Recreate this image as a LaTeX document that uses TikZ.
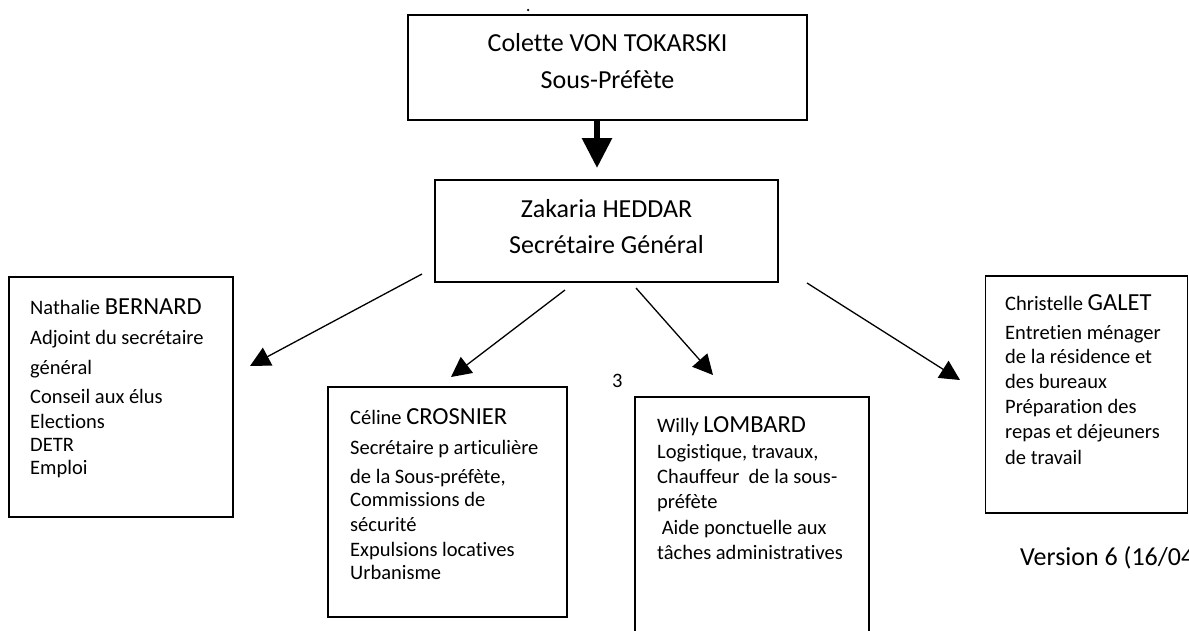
\documentclass[tikz,border=0pt]{standalone}
\usepackage{fontspec}
\setmainfont{Carlito}[Ligatures=NoCommon]
\usetikzlibrary{arrows.meta}
\newcommand\orgtitle{\fontsize{26}{30}\selectfont}
\newcommand\orgsmall{\fontsize{20.5}{24}\selectfont}
\newcommand\orgbig{\fontsize{24.5}{28}\selectfont}
\begin{document}
\begin{tikzpicture}[x=1pt,y=-1pt,
  orgbox/.style={draw=black,line width=1.3pt,inner sep=0pt,anchor=center},
  txt/.style={inner sep=0pt,anchor=base west,font=\orgsmall},
  ttl/.style={inner sep=0pt,anchor=base,font=\orgtitle},
  arr/.style={line width=1.3pt,-{Triangle[length=20pt,width=20pt]}},
  bigarr/.style={line width=6pt,-{Triangle[length=30pt,width=29pt]}}]
\useasboundingbox (0,0) rectangle (1189,630);
\clip (0,0) rectangle (1189,630);

% boxes
\node[orgbox,minimum width=399pt,minimum height=105pt] (top) at (607.5,67.5) {};
\node[orgbox,minimum width=343pt,minimum height=102pt] (sg) at (606.5,231) {};
\node[orgbox,minimum width=224pt,minimum height=240pt] (bern) at (121,397) {};
\node[orgbox,minimum width=239pt,minimum height=230pt] (cros) at (447.5,502) {};
\node[orgbox,minimum width=234pt,minimum height=245pt] (lomb) at (752,519.5) {};
\node[orgbox,minimum width=202pt,minimum height=237pt] (gal) at (1086.5,394.5) {};

% small dot
\node[circle,fill=black,inner sep=0pt,minimum size=2.5pt] (dot) at (528,10) {};

% top texts
\node[ttl] (t1) at (607.5,51) {Colette VON TOKARSKI};
\node[ttl] (t2) at (607.5,88) {Sous-Préfète};
\node[ttl] (s1) at (606.5,217) {Zakaria HEDDAR};
\node[ttl] (s2) at (606.5,253) {Secrétaire Général};

% Bernard
\node[txt] (b1) at (30,314) {Nathalie {\orgbig BERNARD}};
\node[txt] (b2) at (30,344) {Adjoint du secrétaire};
\node[txt] (b3) at (30,374) {général};
\node[txt] (b4) at (30,403) {Conseil aux élus};
\node[txt] (b5) at (30,428) {Elections};
\node[txt] (b6) at (30,451) {DETR};
\node[txt] (b7) at (30,474) {Emploi};

% Crosnier
\node[txt] (c1) at (350,424) {Céline {\orgbig CROSNIER}};
\node[txt] (c2) at (350,454) {Secrétaire p articulière};
\node[txt] (c3) at (350,483) {de la Sous-préfète,};
\node[txt] (c4) at (350,506) {Commissions de};
\node[txt] (c5) at (350,531) {sécurité};
\node[txt] (c6) at (350,556) {Expulsions locatives};
\node[txt] (c7) at (350,579) {Urbanisme};

% Lombard
\node[txt] (l1) at (657,432) {Willy {\orgbig LOMBARD}};
\node[txt] (l2) at (657,458) {Logistique, travaux,};
\node[txt] (l3) at (657,483) {Chauffeur\ \ de la sous-};
\node[txt] (l4) at (657,508) {préfète};
\node[txt] (l5) at (657,534) {\ Aide ponctuelle aux};
\node[txt] (l6) at (657,559) {tâches administratives};

% Galet
\node[txt] (g1) at (1005,310) {Christelle {\orgbig GALET}};
\node[txt] (g2) at (1005,339) {Entretien ménager};
\node[txt] (g3) at (1005,363) {de la résidence et};
\node[txt] (g4) at (1005,388) {des bureaux};
\node[txt] (g5) at (1005,413) {Préparation des};
\node[txt] (g6) at (1005,438) {repas et déjeuners};
\node[txt] (g7) at (1005,464) {de travail};

% extra labels
\node[txt] (three) at (612,387) {3};
\node[inner sep=0pt,anchor=base west,font=\orgtitle] (ver) at (1020,565) {Version 6 (16/04};

% arrows
\coordinate (ta) at (597,120);
\coordinate (tb) at (597,168);
\draw[bigarr] (ta) -- (tb);
\coordinate (a1s) at (422,274);
\coordinate (a1e) at (250,366);
\coordinate (a2s) at (565,290);
\coordinate (a2e) at (451,377);
\coordinate (a3s) at (636,288);
\coordinate (a3e) at (713,375);
\coordinate (a4s) at (807,283);
\coordinate (a4e) at (960,380);
\draw[arr] (a1s) -- (a1e);
\draw[arr] (a2s) -- (a2e);
\draw[arr] (a3s) -- (a3e);
\draw[arr] (a4s) -- (a4e);
\end{tikzpicture}
\end{document}
